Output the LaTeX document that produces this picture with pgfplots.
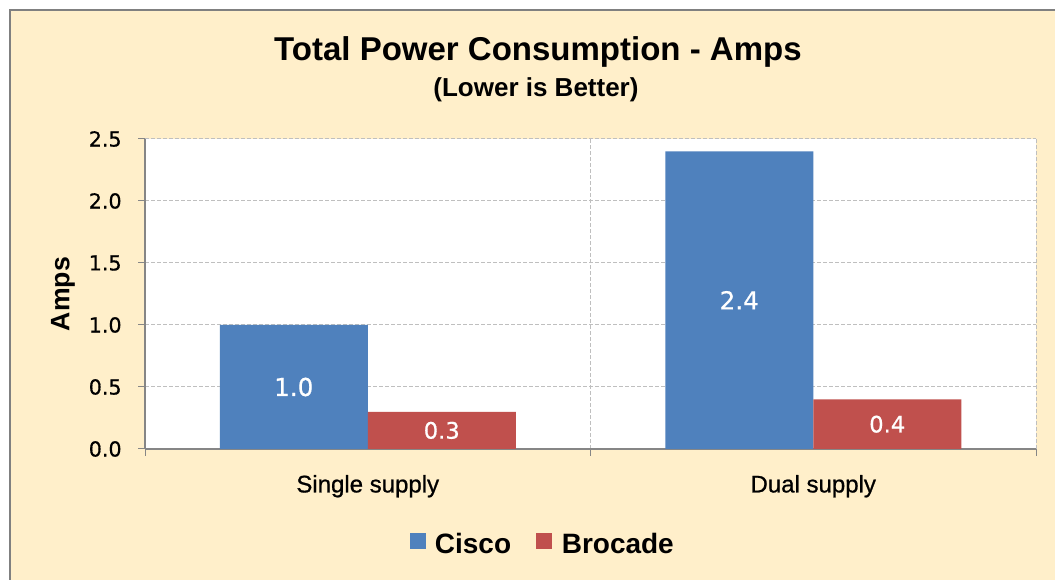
\documentclass[border=0pt]{standalone}
\usepackage{pgfplots}
\pgfplotsset{compat=1.18}
\usepackage{fontspec}
\setmainfont{Liberation Sans}
\newfontfamily\dejavu[FakeBold=0.6]{DejaVu Sans}
\newfontfamily\catfont[FakeBold=0.8]{Liberation Sans}
\definecolor{bgc}{HTML}{FFEFCA}
\definecolor{cisco}{HTML}{4F81BD}
\definecolor{brocade}{HTML}{C0504D}
\definecolor{gridc}{HTML}{BFBFBF}
\definecolor{axc}{HTML}{868686}
\definecolor{framec}{HTML}{808080}
\begin{document}
\begin{tikzpicture}
\path[use as bounding box] (0,0) rectangle (791.25pt,435pt);
\fill[white] (0,0) rectangle (791.25pt,435pt);
\draw[fill=bgc, draw=framec, line width=1.5pt] (7.5pt,-10pt) rectangle (805pt,427.5pt);
\begin{axis}[
  at={(108.75pt,98.25pt)}, anchor=south west,
  scale only axis, width=668.25pt, height=232.5pt,
  clip=false,
  xmin=-0.5, xmax=1.5, ymin=0, ymax=2.5,
  xtick={-0.5,0.5,1.5}, xticklabels={,,},
  extra x ticks={0,1},
  extra x tick labels={Single supply,Dual supply},
  extra x tick style={major tick length=0pt, grid=none,
     xticklabel style={font=\catfont\fontsize{18}{22}\selectfont, yshift=-16pt}},
  ytick={0,0.5,1,1.5,2,2.5},
  /pgf/number format/fixed, /pgf/number format/fixed zerofill,
  /pgf/number format/precision=1, /pgf/number format/assume math mode=true,
  yticklabel style={font=\dejavu\fontsize{15.5}{18}\selectfont, xshift=-9pt},
  tick align=outside, major tick length=5pt,
  tick style={draw=axc, line width=0.75pt},
  axis x line*=bottom, axis y line*=left,
  axis line style={draw=axc, line width=1pt, -},
  grid=major,
  major grid style={draw=gridc, line width=0.75pt, dash pattern=on 3pt off 1.5pt},
  axis background/.style={fill=white},
  ylabel={Amps},
  ylabel style={at={(axis description cs:-0.092,0.5)}, anchor=center, font=\fontsize{20}{24}\selectfont\bfseries},
  legend style={at={(axis description cs:0.4467,-0.3065)}, anchor=center, draw=none, fill=none,
     legend columns=2, font=\fontsize{21}{25}\selectfont\bfseries,
     /tikz/every odd column/.append style={column sep=5pt},
     /tikz/every even column/.append style={column sep=17pt}},
  mylegend/.style={legend image code/.code={\fill[##1] (0pt,-4pt) rectangle (12pt,8pt);}},
]
\addplot[ybar, bar width=111pt, bar shift=-55.5pt, fill=cisco, draw=none, mylegend]
  coordinates {(0,1.0) (1,2.4)};
\addlegendentry{Cisco}
\addplot[ybar, bar width=111pt, bar shift=55.5pt, fill=brocade, draw=none, mylegend]
  coordinates {(0,0.3) (1,0.4)};
\addlegendentry{Brocade}
\addplot[forget plot, only marks, mark=none, nodes near coords, point meta=explicit symbolic,
  nodes near coords style={anchor=center, text=white, font=\dejavu\fontsize{18.5}{22}\selectfont}]
  coordinates {(-0.1661,0.5) [1.0] (0.8339,1.2) [2.4]};
\addplot[forget plot, only marks, mark=none, nodes near coords, point meta=explicit symbolic,
  nodes near coords style={anchor=center, text=white, font=\dejavu\fontsize{17}{20}\selectfont}]
  coordinates {(0.1661,0.15) [0.3] (1.1661,0.2) [0.4]};
\node[font=\fontsize{24.75}{30}\selectfont\bfseries] at (axis description cs:0.441,1.281) {Total Power Consumption - Amps};
\node[font=\fontsize{19.5}{23}\selectfont\bfseries] at (axis description cs:0.4388,1.158) {(Lower is Better)};
\end{axis}
\end{tikzpicture}
\end{document}
